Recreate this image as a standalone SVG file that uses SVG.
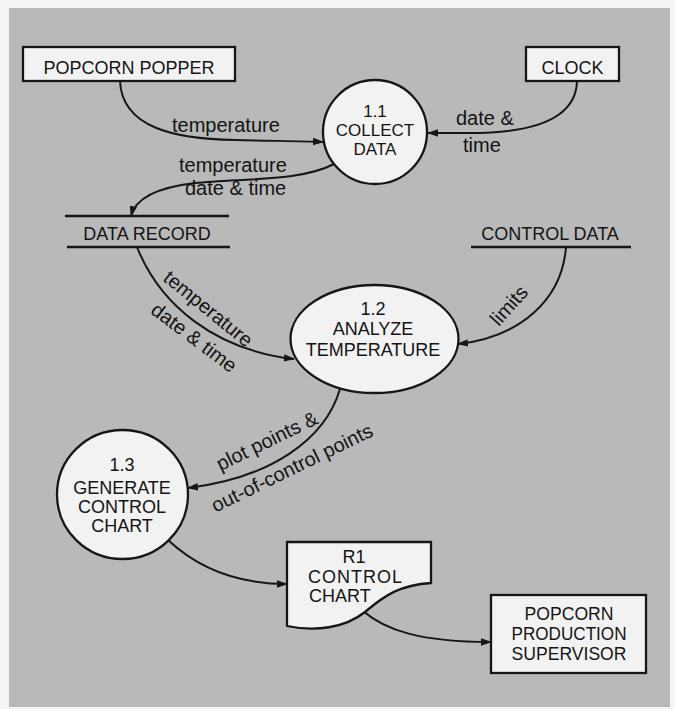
<svg xmlns="http://www.w3.org/2000/svg" width="675" height="709" viewBox="0 0 675 709">
<defs>
<style>
.node{fill:#f2f2f2;stroke:#161616;stroke-width:2.3}
.t{font-family:"Liberation Sans",Arial,sans-serif;font-size:18px;fill:#141414;text-anchor:middle}
.s17{font-size:17px}
.lbl{font-family:"Liberation Sans",Arial,sans-serif;font-size:20px;fill:#141414}
.c{fill:none;stroke:#161616;stroke-width:2}
.store{stroke:#161616;stroke-width:2.5}
</style>
<marker id="ah" markerUnits="userSpaceOnUse" markerWidth="11" markerHeight="9" viewBox="0 0 11 9" refX="10" refY="4.5" orient="auto">
<path d="M0,0.8 L11,4.5 L0,8.2 z" fill="#161616"/>
</marker>
</defs>
<rect x="0" y="0" width="675" height="709" fill="#f4f4f4"/>
<rect x="9" y="8" width="661" height="699" fill="#b9b9b9"/>

<g id="connectors">
<path class="c" marker-end="url(#ah)" d="M120,81 C122,128 175,139 235,140 C275,141 300,141 323,142"/>
<path class="c" marker-end="url(#ah)" d="M577,81 C576,122 525,133 470,133 L428,133"/>
<path class="c" marker-end="url(#ah)" d="M334,164 C300,182 240,178 195,183 C152,188 135,200 131,216"/>
<path class="c" marker-end="url(#ah)" d="M137,247 C160,305 215,350 294,359"/>
<path class="c" marker-end="url(#ah)" d="M566,247 C562,300 520,337 458,344"/>
<path class="c" marker-end="url(#ah)" d="M340,389 C325,440 270,478 188,488"/>
<path class="c" marker-end="url(#ah)" d="M168,540 C200,570 240,584 287,584"/>
<path class="c" marker-end="url(#ah)" d="M363,611 C385,630 420,642 491,642"/>
<text class="lbl" x="172" y="132">temperature</text>
<text class="lbl" x="456" y="125">date &amp;</text>
<text class="lbl" x="463" y="152">time</text>
<text class="lbl" x="179" y="172">temperature</text>
<text class="lbl" x="185" y="195">date &amp; time</text>
<text class="lbl" text-anchor="middle" x="204" y="314" transform="rotate(39 204 314)">temperature</text>
<text class="lbl" text-anchor="middle" x="190" y="343" transform="rotate(37 190 343)">date &amp; time</text>
<text class="lbl" text-anchor="middle" x="514" y="310" transform="rotate(-48 514 310)">limits</text>
<text class="lbl" text-anchor="middle" x="270" y="447" transform="rotate(-26 270 447)">plot points &amp;</text>
<text class="lbl" text-anchor="middle" x="295" y="474" transform="rotate(-26 295 474)">out-of-control points</text>
</g>

<g id="popcorn-popper">
<rect class="node" x="23" y="47" width="212" height="34"/>
<text class="t" x="129" y="74">POPCORN POPPER</text>
</g>
<g id="clock">
<rect class="node" x="526" y="47" width="93" height="34"/>
<text class="t" x="572.5" y="74">CLOCK</text>
</g>
<g id="p1-1">
<circle class="node" cx="375" cy="132" r="52"/>
<text class="t s17" x="375" y="117">1.1</text>
<text class="t s17" x="375" y="136">COLLECT</text>
<text class="t s17" x="375" y="155">DATA</text>
</g>
<g id="data-record">
<line class="store" x1="65" y1="216" x2="229" y2="216"/>
<text class="t" x="147" y="240">DATA RECORD</text>
<line class="store" x1="67" y1="247" x2="230" y2="247"/>
</g>
<g id="control-data">
<text class="t" x="550" y="240">CONTROL DATA</text>
<line class="store" x1="471" y1="247" x2="631" y2="247"/>
</g>
<g id="p1-2">
<ellipse class="node" cx="374.5" cy="339" rx="84" ry="54"/>
<text class="t" x="373" y="315">1.2</text>
<text class="t" x="373" y="335">ANALYZE</text>
<text class="t" x="373" y="356">TEMPERATURE</text>
</g>
<g id="p1-3">
<ellipse class="node" cx="122.5" cy="494.5" rx="65.5" ry="64.5"/>
<text class="t" x="122" y="471">1.3</text>
<text class="t" x="122" y="494">GENERATE</text>
<text class="t" x="122" y="513">CONTROL</text>
<text class="t" x="122" y="532">CHART</text>
</g>
<g id="r1-control-chart">
<path class="node" d="M287,542 H431 V583 C400,585 385,595 365,612 C345,628 315,632 287,626 Z"/>
<text class="t" x="354" y="563">R1</text>
<text class="t" x="308" y="583" style="text-anchor:start" textLength="94" lengthAdjust="spacing">CONTROL</text>
<text class="t" x="309" y="602" style="text-anchor:start">CHART</text>
</g>
<g id="popcorn-production-supervisor">
<rect class="node" x="491" y="595" width="155" height="78"/>
<text class="t" x="569" y="620" textLength="89" lengthAdjust="spacingAndGlyphs">POPCORN</text>
<text class="t" x="569" y="640" textLength="115" lengthAdjust="spacingAndGlyphs">PRODUCTION</text>
<text class="t" x="569" y="660" textLength="115" lengthAdjust="spacingAndGlyphs">SUPERVISOR</text>
</g>
</svg>
